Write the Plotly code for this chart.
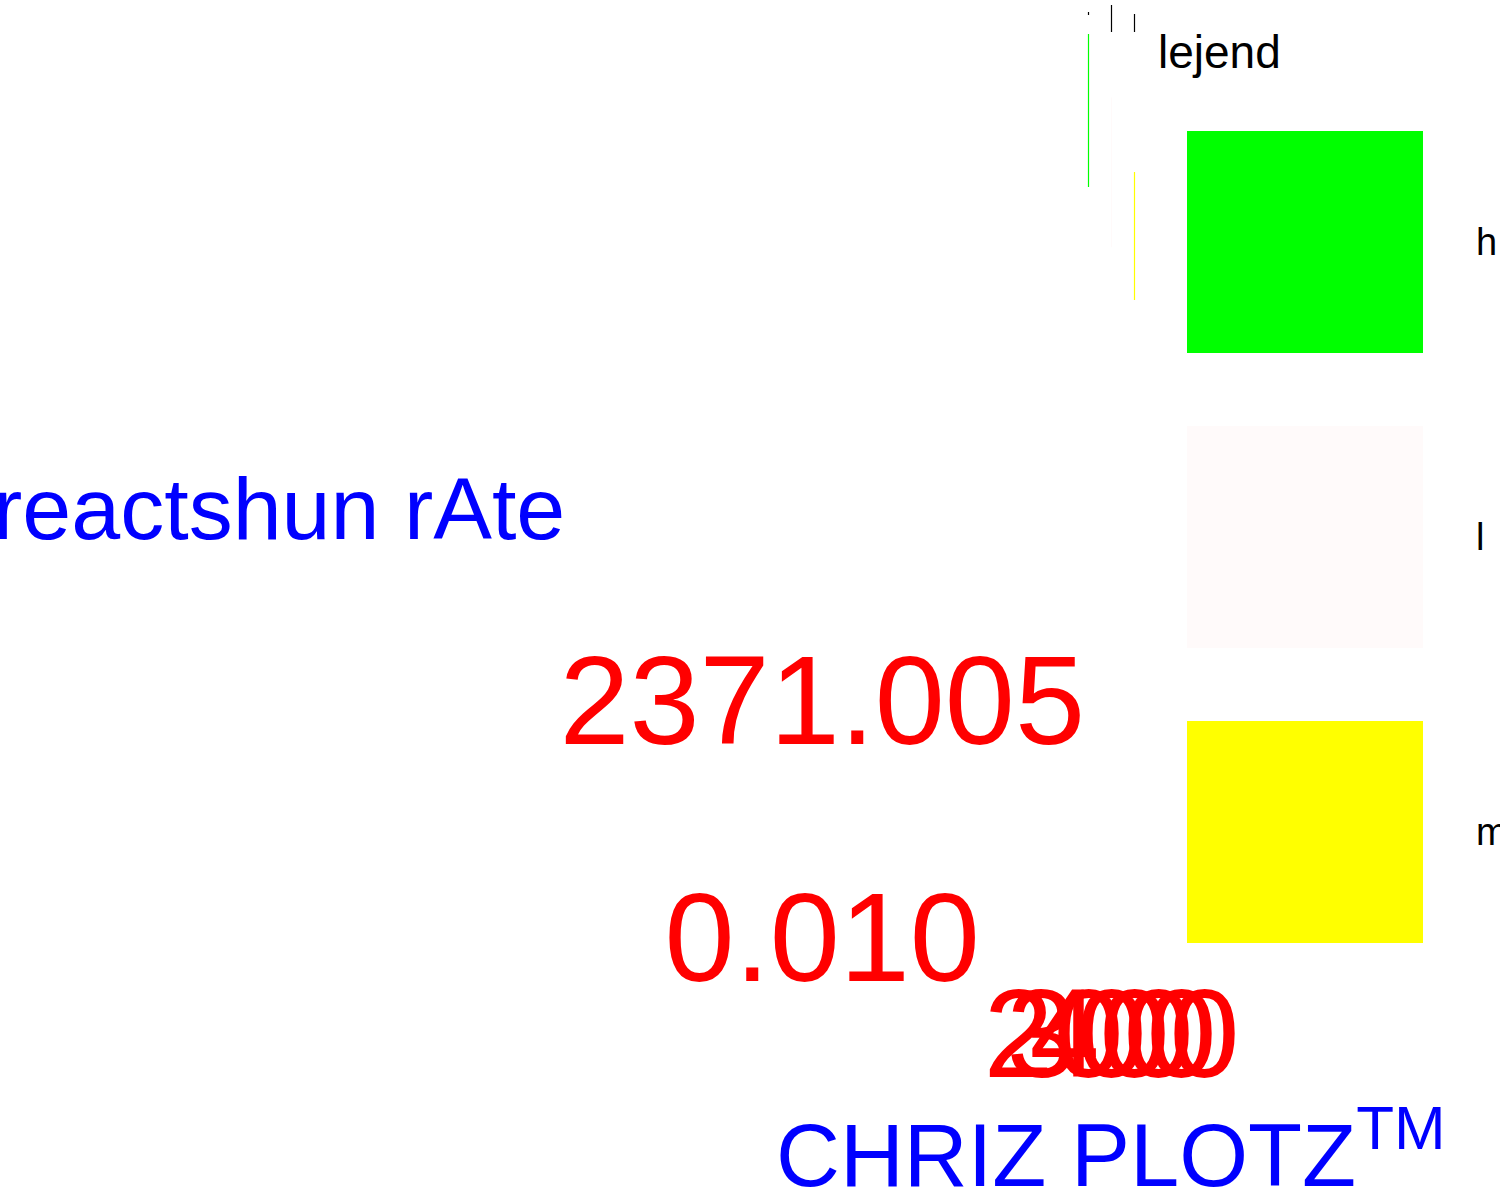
import plotly.graph_objects as go

# ---- data ----
categories = ["h", "l", "m"]
x_positions = [200, 300, 400]
colors = ["lime", "snow", "yellow"]
range_high = [9033.8, 8400.0, 7653.2]
range_low = [7503.2, 6900.0, 6372.7]
cap_high = [9254.0, 9324.0, 9234.0]
cap_low = [9224.0, 9054.0, 9054.0]

y_tickvals = [0.010, 2371.005]
y_ticktext = ["0.010\u2007\u2008", "2371.005"]
x_tickvals = [200, 300, 400]
x_ticktext = ["200", "300", "400"]

y_title = "reactshun rAte"
x_title = "CHRIZ PLOTZ<sup>TM</sup>"
legend_title = "lejend"

W, H = 1500, 1200
L, R, T, B = 1086, 364, 0, 250
PW, PH = W - L - R, H - T - B


def px(x):
    return (x - L) / PW


def py(y):
    return (H - B - y) / PH


fig = go.Figure()
for cat, xp, c, lo, hi in zip(categories, x_positions, colors, range_low, range_high):
    fig.add_trace(go.Scatter(x=[xp, xp], y=[lo, hi], mode="lines", name=cat,
                             line=dict(color=c, width=1.2), showlegend=False))
cx, cy = [], []
for xp, lo, hi in zip(x_positions, cap_low, cap_high):
    cx += [xp, xp, None]
    cy += [lo, hi, None]
fig.add_trace(go.Scatter(x=cx, y=cy, mode="lines", line=dict(color="black", width=1.2),
                         showlegend=False, hoverinfo="skip"))

font_family = "Arial, Liberation Sans, sans-serif"

shapes = []
annotations = []
# custom legend
annotations.append(dict(text=legend_title, xref="paper", yref="paper", x=px(1156), y=py(52),
                        xanchor="left", yanchor="middle", showarrow=False,
                        font=dict(size=46, color="black", family=font_family)))
sw_top = [131, 426, 721]
for cat, c, t in zip(categories, colors, sw_top):
    shapes.append(dict(type="rect", xref="paper", yref="paper", x0=px(1187), x1=px(1423),
                       y0=py(t + 222), y1=py(t), fillcolor=c, line=dict(width=0), layer="above"))
    annotations.append(dict(text=cat, xref="paper", yref="paper", x=px(1474), y=py(t + 111),
                            xanchor="left", yanchor="middle", showarrow=False,
                            font=dict(size=38, color="black", family=font_family)))
# y axis title (horizontal)
annotations.append(dict(text=y_title, xref="paper", yref="paper", x=px(279), y=py(508),
                        xanchor="center", yanchor="middle", showarrow=False,
                        font=dict(size=88, color="blue", family=font_family)))
# x axis title
annotations.append(dict(text=x_title, xref="paper", yref="paper", x=0.5, y=py(1207),
                        xanchor="center", yanchor="bottom", showarrow=False,
                        font=dict(size=88.5, color="blue", family=font_family)))

fig.update_layout(
    width=W, height=H,
    margin=dict(l=L, r=R, t=T, b=B, autoexpand=False),
    paper_bgcolor="white", plot_bgcolor="white",
    showlegend=False,
    font=dict(family=font_family),
    shapes=shapes, annotations=annotations,
    xaxis=dict(range=[189.13, 406.53], tickvals=x_tickvals, ticktext=x_ticktext, tickangle=0,
               showgrid=False, zeroline=False, showline=False, automargin=False,
               tickfont=dict(size=126, color="red", family=font_family)),
    yaxis=dict(range=[-130.05, 9373.95], tickvals=y_tickvals, ticktext=y_ticktext,
               showgrid=False, zeroline=False, showline=False, automargin=False,
               tickfont=dict(size=126, color="red", family=font_family)),
)

fig.write_html("out.html", config={"displayModeBar": False},
               post_script="document.body.style.margin='0px';document.body.style.overflow='hidden';")
